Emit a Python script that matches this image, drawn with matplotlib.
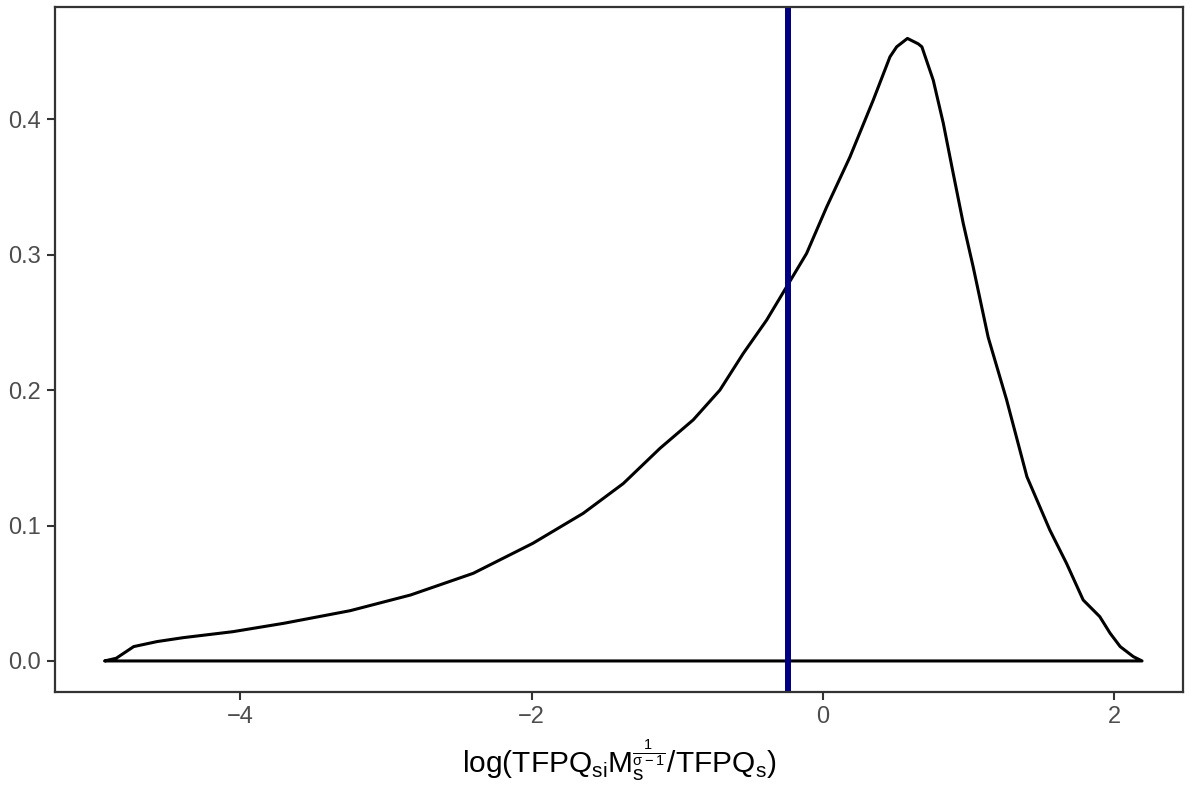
import matplotlib
matplotlib.use('Agg')
import matplotlib.pyplot as plt

# density estimate
dens_x = [-4.93, -4.85, -4.73, -4.57, -4.39, -4.05, -3.70, -3.245, -2.83,
          -2.40, -1.99, -1.645, -1.37, -1.118, -0.89, -0.707, -0.547, -0.386,
          -0.249, -0.112, 0.025, 0.185, 0.345, 0.46, 0.506, 0.58, 0.654,
          0.679, 0.757, 0.826, 0.894, 0.963, 1.031, 1.134, 1.26, 1.40, 1.557,
          1.672, 1.786, 1.90, 1.97, 2.04, 2.13, 2.19]
dens_y = [0.0, 0.002, 0.0106, 0.0143, 0.0172, 0.0216, 0.0278, 0.0371, 0.0487,
          0.0647, 0.0869, 0.109, 0.131, 0.157, 0.178, 0.200, 0.227, 0.2517,
          0.2763, 0.3009, 0.335, 0.372, 0.414, 0.446, 0.4534, 0.4596, 0.4556,
          0.4534, 0.4288, 0.397, 0.360, 0.323, 0.291, 0.239, 0.193, 0.136,
          0.0967, 0.072, 0.045, 0.0327, 0.0206, 0.0106, 0.0032, 0.0]
vline_x = -0.238

x_ticks = [-4, -2, 0, 2]
y_ticks = [0.0, 0.1, 0.2, 0.3, 0.4]

plt.rcParams['font.family'] = ['Liberation Sans', 'DejaVu Sans']
plt.rcParams['mathtext.fontset'] = 'custom'
plt.rcParams['mathtext.rm'] = 'Liberation Sans'
plt.rcParams['mathtext.it'] = 'Liberation Sans'
plt.rcParams['mathtext.bf'] = 'Liberation Sans:bold'

fig = plt.figure(figsize=(11.96, 7.93), dpi=100)
ax = fig.add_axes([0.046, 0.1274, 0.943, 0.8636])

ax.fill(dens_x, dens_y, facecolor='none', edgecolor='black', linewidth=2.2,
        joinstyle='round')
ax.axvline(vline_x, color='#000080', linewidth=4.3)

ax.set_xlim(-5.27, 2.47)
ax.set_ylim(-0.0229, 0.4827)
ax.set_xticks(x_ticks)
ax.set_xticklabels(['\u2212%d' % -t if t < 0 else '%d' % t for t in x_ticks])
ax.set_yticks(y_ticks)
ax.set_yticklabels(['%.1f' % t for t in y_ticks])

ax.tick_params(axis='both', direction='out', length=6, width=1.5,
               color='#333333', labelsize=17, labelcolor='#4D4D4D', pad=4)
for s in ax.spines.values():
    s.set_color('#333333')
    s.set_linewidth(1.6)

ax.set_xlabel(r'$\mathrm{log(TFPQ_{si}M_{s}^{\frac{1}{\sigma-1}}/TFPQ_{s})}$',
              fontsize=21.5, color='black', labelpad=7)

fig.savefig('out.png', dpi=100, facecolor='white')
